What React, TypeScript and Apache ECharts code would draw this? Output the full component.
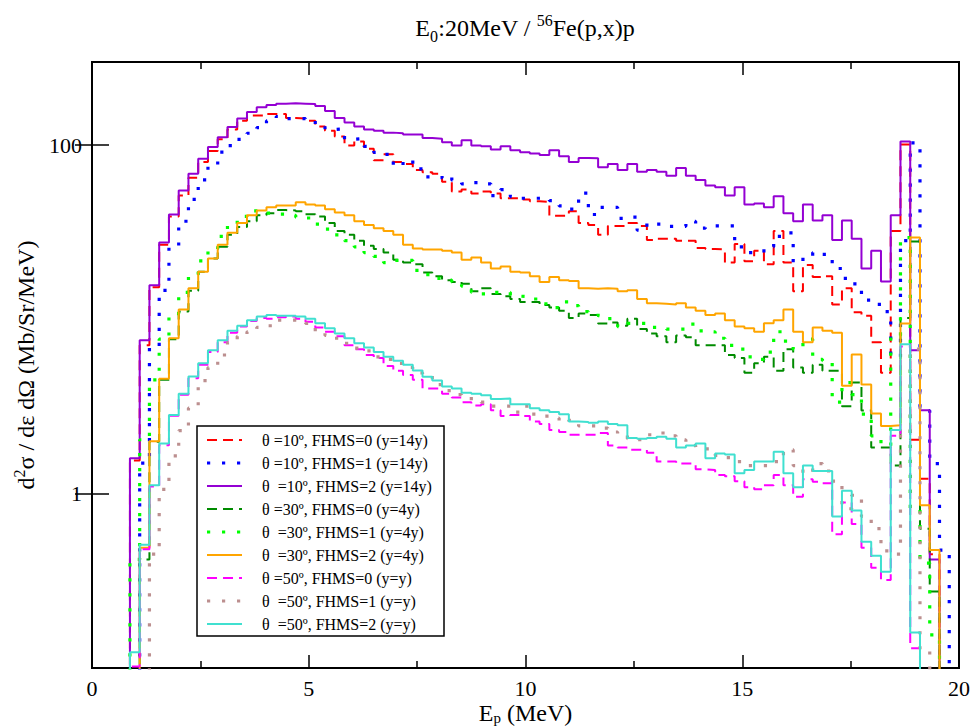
import React, { useEffect, useRef } from 'react';
import * as echarts from 'echarts';

// Energy bins (MeV): first lower edge and constant width
const binStart = 0.875;
const binWidth = 0.225;

// Axis ranges and ticks
const xMin = 0;
const xMax = 20;
const xInterval = 5;
const yMin = 0.1;
const yMax = 300;
const yTickValues = [1, 100];

const seriesNames = [
  'θ =10º, FHMS=0 (y=14y)',
  'θ =10º, FHMS=1 (y=14y)',
  'θ  =10º, FHMS=2 (y=14y)',
  'θ =30º, FHMS=0 (y=4y)',
  'θ  =30º, FHMS=1 (y=4y)',
  'θ  =30º, FHMS=2 (y=4y)',
  'θ =50º, FHMS=0 (y=y)',
  'θ  =50º, FHMS=1 (y=y)',
  'θ  =50º, FHMS=2 (y=y)',
];

// Values per bin (index 0 = first bin), null = not drawn
const theta10Fhms0 = [
  1.55, 7.1, 15.3, 26.8, 39, 51.4, 65, 80, 92.6, 108,
  123, 138, 148, 148, 151, 151, 143, 142, 138, 128,
  121, 112, 99.5, 105, 95.5, 82, 88.6, 80, 78, 72,
  70, 68.5, 61.7, 54.2, 55.6, 52.8, 54.2, 52.8, 49.6, 49.6,
  48.8, 47.6, 47.2, 39.4, 39.4, 41.7, 35.7, 34.8, 30.6, 34.4,
  34.4, 35.7, 34.4, 28.6, 29, 29, 28.3, 28.3, 25.7, 25.4,
  25.2, 21.2, 27.1, 21.6, 24.8, 20.7, 32.2, 21.2, 14.5, 20.5,
  17.5, 17.7, 12.2, 15.1, 11, 10.5, 7.4, 4.94, 32.2, 101,
  2.04, 1.22, 0.45,
];

const theta10Fhms1 = [
  null, 1.5, 6.9, 14.7, 26.1, 36.6, 48.8, 63.2, 76, 91.2,
  99.5, 108, 117, 126, 138, 146, 142, 142, 140, 131,
  123, 124, 108, 109, 98.5, 91, 88.6, 76, 82, 73,
  65.7, 65, 66.7, 63, 60, 61, 60, 51.4, 55.6, 50.7,
  49.6, 49.6, 50, 48, 44.8, 42.9, 53, 40, 44, 44,
  38, 38.6, 32.5, 35.7, 35.2, 34.2, 34.2, 36.6, 33.4, 33.9,
  34.4, 34.4, 26.1, 24.2, 24.2, 26.1, 30, 31.4, 21.2, 23,
  24.2, 23.6, 19.6, 17.2, 16, 12.9, 12.2, 11.1, 6.1, 28.3,
  103, 3.0, 1.49, 0.475,
];

const theta10Fhms2 = [
  1.6, 7.6, 15.7, 27.6, 40, 55, 68.6, 83.6, 97.7, 111,
  127, 142, 155, 165, 170, 173, 174, 173, 172, 168,
  157, 143, 135, 128, 123, 121, 118, 117, 115, 115,
  110, 109, 104, 99.5, 106.6, 99.5, 98.5, 94.5, 98.5, 93.5,
  91.2, 89.7, 87.8, 93.5, 86.5, 80, 84.3, 84, 74.8, 78,
  72, 78, 70.3, 72, 70.3, 66.7, 74, 66.7, 63.2, 58.6,
  57.3, 51.4, 57.3, 45.6, 46.3, 44, 50.9, 40.7, 36.6, 45.6,
  37, 39.6, 28.6, 37, 29, 19.6, 24.8, 16.5, 39.6, 105,
  6.65, 3.01, 0.42,
];

const theta30Fhms0 = [
  null, 0.42, 1.99, 4.5, 7.7, 11.1, 14.6, 18.8, 22.4, 26.1,
  30.6, 33.9, 36.6, 39.6, 40.7, 42.4, 42.2, 41.7, 40.2, 39,
  35.7, 32.2, 30.6, 28.3, 26.5, 25.4, 24.2, 22, 21.2, 20.7,
  18.6, 17.7, 16.8, 16.4, 16, 14.5, 15.1, 14, 13.6, 13.1,
  12.6, 12.6, 12.1, 11.7, 11.2, 10.2, 10.8, 10.6, 9.47, 9.6,
  9.2, 10.1, 8.8, 8.3, 8.0, 7.4, 8.1, 7.9, 7.1, 7.1,
  7.1, 6.25, 6.0, 4.94, 5.6, 6.1, 5.07, 6.75, 5.3, 4.94,
  5.5, 5.07, 5.07, 3.18, 4.34, 3.0, 1.84, 1.84, 1.45, 10.2,
  28, 0.63, 0.275,
];

const theta30Fhms1 = [
  0.42, 2.04, 4.5, 7.7, 10.8, 14.3, 18.1, 21.7, 25.4, 30,
  35, 39, 42, 42, 40.7, 40.2, 39.6, 38.6, 38.2, 35.2,
  33, 30.6, 28.3, 26.1, 24.2, 23, 21.2, 21.8, 21.8, 19.1,
  18.1, 17.2, 16.8, 16.4, 15.5, 14.3, 14, 14.3, 14.3, 13.6,
  13.5, 13.1, 12.3, 11.7, 12.6, 12, 11.1, 10.8, 10.5, 10.1,
  9.1, 9.5, 9.5, 9.0, 8.9, 8.8, 8.8, 9.4, 8.6, 8.5,
  7.8, 7.1, 6.75, 6.1, 5.9, 6.5, 8.5, 7.5, 6.75, 7.7,
  5.9, 5.8, 3.35, 4.34, 3.7, 2.86, 2.15, 1.89, 8.1, 29.5,
  0.82, 0.4, 0.155,
];

const theta30Fhms2 = [
  null, 0.49, 2.0, 4.57, 7.8, 11.4, 15.1, 18.8, 22.4, 26.8,
  31.4, 35.7, 39.6, 42.2, 44, 45.1, 45.1, 47.1, 45.6, 45.1,
  42.9, 41.1, 39.6, 36.6, 34.8, 33.4, 32.2, 30.6, 26.8, 25.5,
  25.2, 25.2, 24.8, 24.2, 22, 22.7, 21.2, 19.6, 20.1, 18.8,
  18.6, 17.7, 16.4, 17.5, 16.8, 16.6, 15.1, 15, 15.1, 15,
  14.5, 14.7, 13.1, 12.4, 12.3, 12.2, 12.4, 11.7, 11.2, 10.6,
  10.8, 9.9, 9.1, 8.9, 8.5, 9.5, 9.9, 11.4, 8.5, 7.4,
  9.0, 8.6, 8.4, 4.16, 6.3, 4.23, 2.89, 2.45, 2.47, 9.47,
  29.5, 0.86, 0.475,
];

const theta50Fhms0 = [
  0.102, 0.48, 1.1, 1.9, 2.8, 3.7, 4.6, 5.5, 6.5, 7.4,
  8.4, 9.1, 9.8, 10.2, 10.1, 10.3, 10.4, 10.1, 9.7, 9.0,
  8.5, 8.0, 7.1, 6.75, 6.25, 6.0, 5.4, 5.07, 4.8, 4.5,
  4.01, 4.01, 3.75, 3.56, 3.35, 3.21, 3.26, 3.01, 2.79, 2.83,
  2.79, 2.6, 2.51, 2.32, 2.26, 2.18, 2.18, 2.18, 2.23, 1.89,
  1.84, 1.79, 1.79, 1.72, 1.53, 1.53, 1.49, 1.49, 1.38, 1.37,
  1.28, 1.26, 1.18, 1.09, 1.06, 1.12, 1.28, 1.12, 0.96, 1.21,
  1.17, 1.15, 0.585, 0.89, 0.67, 0.49, 0.376, 0.32, 2.15, 7.0,
  0.13,
];

const theta50Fhms1 = [
  null, null, 0.45, 1.06, 1.65, 2.3, 3.1, 4.46, 5.3, 6.25,
  7.37, 8.0, 8.5, 9.0, 9.2, 9.9, 9.9, 9.9, 9.5, 8.5,
  8.1, 7.8, 7.3, 6.85, 6.6, 6.1, 5.9, 5.6, 5.3, 4.94,
  4.77, 4.23, 3.9, 3.7, 3.6, 3.43, 3.35, 3.18, 3.18, 2.94,
  3.18, 2.86, 2.79, 2.72, 2.58, 2.64, 2.45, 2.45, 2.38, 2.26,
  2.2, 2.07, 2.04, 2.18, 2.23, 2.15, 2.04, 1.89, 1.84, 1.81,
  1.66, 1.61, 1.53, 1.45, 1.45, 1.45, 1.53, 1.79, 1.45, 1.31,
  1.49, 1.35, 1.18, 0.82, 0.98, 0.74, 0.63, 0.47, 0.45, 2.2,
  6.75, 0.126,
];

const theta50Fhms2 = [
  0.123, 0.51, 1.12, 1.94, 2.83, 3.75, 4.7, 5.6, 6.65, 7.6,
  8.6, 9.2, 9.9, 10.4, 10.6, 10.5, 10.5, 10.4, 10.1, 9.5,
  8.9, 8.3, 7.8, 7.3, 6.9, 6.5, 6.1, 5.8, 5.5, 5.1,
  4.69, 4.46, 4.12, 4.01, 3.8, 3.75, 3.67, 3.49, 3.52, 3.26,
  3.26, 3.09, 3.01, 2.94, 2.86, 2.6, 2.58, 2.55, 2.6, 2.51,
  2.47, 2.09, 2.07, 2.09, 2.12, 2.07, 1.84, 1.89, 1.94, 1.6,
  1.7, 1.68, 1.31, 1.37, 1.53, 1.53, 1.74, 1.31, 1.09, 1.45,
  1.35, 1.35, 0.74, 1.04, 0.8, 0.53, 0.44, 0.357, 2.32, 7.2,
  0.16,
];

const seriesValues = [
  theta10Fhms0, theta10Fhms1, theta10Fhms2,
  theta30Fhms0, theta30Fhms1, theta30Fhms2,
  theta50Fhms0, theta50Fhms1, theta50Fhms2,
];

// Styles (presentation only)
const SERIF = '"Liberation Serif", "Times New Roman", serif';
const DASH = [10, 6];
const DOT = [3.2, 11.8];
const seriesStyles = [
  { color: '#ff0000', width: 2, dash: DASH },
  { color: '#0000ff', width: 3.2, dash: DOT },
  { color: '#9400d3', width: 2, dash: null },
  { color: '#008b00', width: 2, dash: DASH },
  { color: '#00ff00', width: 3.2, dash: DOT },
  { color: '#ffa500', width: 2, dash: null },
  { color: '#ff00ff', width: 2, dash: DASH },
  { color: '#bc8f8f', width: 3.2, dash: DOT },
  { color: '#40e0d0', width: 2, dash: null },
];

const FLOOR = 0.001; // below the axis minimum, clipped away

function edge(k: number): number {
  return Math.round((binStart + binWidth * k) * 10000) / 10000;
}

function toHistogram(vals: (number | null)[]): [number, number][] {
  const first = vals.findIndex((v) => v != null);
  const pts: [number, number][] = [];
  pts.push([edge(first), FLOOR]);
  for (let k = first; k < vals.length; k++) {
    pts.push([edge(k), vals[k] as number]);
  }
  const n = vals.length;
  pts.push([edge(n), vals[n - 1] as number]);
  pts.push([edge(n), FLOOR]);
  return pts;
}

export default function App() {
  const ref = useRef<HTMLDivElement>(null);

  useEffect(() => {
    if (!ref.current) return;
    const chart = echarts.init(ref.current, null, { renderer: 'svg' });

    const tickLine = { color: '#000', width: 1.5 };
    const labelStyle = { color: '#000', fontFamily: SERIF, fontSize: 22 };

    const series = seriesValues.map((vals, i) => ({
      type: 'line',
      name: seriesNames[i],
      data: toHistogram(vals),
      step: 'end',
      symbol: 'none',
      showSymbol: false,
      clip: true,
      silent: true,
      xAxisIndex: 0,
      yAxisIndex: 0,
      z: 2 + i * 0.01,
      lineStyle: {
        color: seriesStyles[i].color,
        width: seriesStyles[i].width,
        type: seriesStyles[i].dash ? seriesStyles[i].dash : 'solid',
        cap: 'butt',
      },
      itemStyle: { color: seriesStyles[i].color },
    }));

    const legendX = 197;
    const legendY = 426;
    const legendW = 247;
    const legendH = 210;
    const rowY0 = 440;
    const rowGap = 23;

    const legendElements: any[] = [
      {
        type: 'rect',
        shape: { x: legendX, y: legendY, width: legendW, height: legendH },
        style: { fill: '#fff', stroke: '#000', lineWidth: 1.5 },
        z: 100,
      },
    ];
    seriesNames.forEach((name, i) => {
      const y = rowY0 + rowGap * i;
      const st = seriesStyles[i];
      legendElements.push({
        type: 'line',
        shape: { x1: 207, y1: y, x2: 242, y2: y },
        style: {
          stroke: st.color,
          lineWidth: st.width,
          lineDash: st.dash ? st.dash : null,
          lineCap: 'butt',
        },
        z: 101,
      });
      legendElements.push({
        type: 'text',
        x: 262,
        y: y,
        style: {
          text: name,
          fill: '#000',
          fontFamily: SERIF,
          fontSize: 16,
          align: 'left',
          verticalAlign: 'middle',
        },
        z: 101,
      });
    });

    const option: any = {
      animation: false,
      backgroundColor: '#fff',
      grid: {
        left: 92,
        right: 15,
        top: 62,
        bottom: 59,
        containLabel: false,
        outerBoundsMode: 'none',
        show: true,
        borderColor: '#000',
        borderWidth: 2,
        backgroundColor: 'transparent',
      },
      xAxis: [
        {
          type: 'value',
          min: xMin,
          max: xMax,
          interval: xInterval,
          position: 'bottom',
          axisLine: { show: false },
          axisTick: { show: true, inside: true, length: 13, lineStyle: tickLine },
          minorTick: { show: true, splitNumber: 2, length: 7, lineStyle: tickLine },
          splitLine: { show: false },
          minorSplitLine: { show: false },
          axisLabel: { ...labelStyle, margin: 9 },
          name: '{a|E}{s|p}{a| (MeV)}',
          nameLocation: 'middle',
          nameGap: 33,
          nameMoveOverlap: false,
          nameTextStyle: {
            color: '#000',
            rich: {
              a: { fontFamily: SERIF, fontSize: 24, color: '#000', lineHeight: 24 },
              s: { fontFamily: SERIF, fontSize: 15, color: '#000', lineHeight: 24, verticalAlign: 'bottom' },
            },
          },
        },
        {
          type: 'value',
          min: xMin,
          max: xMax,
          interval: xInterval,
          position: 'top',
          axisLine: { show: false },
          axisTick: { show: true, inside: true, length: 13, lineStyle: tickLine },
          minorTick: { show: true, splitNumber: 2, length: 7, lineStyle: tickLine },
          splitLine: { show: false },
          minorSplitLine: { show: false },
          axisLabel: { show: false },
        },
      ],
      yAxis: [
        {
          type: 'log',
          logBase: 10,
          min: yMin,
          max: yMax,
          position: 'left',
          axisLine: { show: false },
          axisTick: { show: true, inside: true, length: 17, lineStyle: tickLine, customValues: yTickValues },
          minorTick: { show: false },
          splitLine: { show: false },
          minorSplitLine: { show: false },
          axisLabel: { ...labelStyle, margin: 10, customValues: yTickValues },
          name: '{a|d}{p|2}{a|σ / dε dΩ (Mb/Sr/MeV)}',
          nameLocation: 'middle',
          nameRotate: 90,
          nameGap: 46,
          nameTextStyle: {
            color: '#000',
            rich: {
              a: { fontFamily: SERIF, fontSize: 24, color: '#000', lineHeight: 30 },
              p: { fontFamily: SERIF, fontSize: 16, color: '#000', lineHeight: 30, verticalAlign: 'top' },
            },
          },
        },
        {
          type: 'log',
          logBase: 10,
          min: yMin,
          max: yMax,
          position: 'right',
          axisLine: { show: false },
          axisTick: { show: true, inside: true, length: 17, lineStyle: tickLine, customValues: yTickValues },
          minorTick: { show: false },
          splitLine: { show: false },
          minorSplitLine: { show: false },
          axisLabel: { show: false, customValues: yTickValues },
        },
      ],
      series,
      graphic: [
        {
          type: 'text',
          x: 525,
          y: 28,
          z: 100,
          style: {
            text: '{a|E}{s|0}{a|:20MeV / }{p|56}{a|Fe(p,x)p}',
            align: 'center',
            verticalAlign: 'middle',
            rich: {
              a: { fontFamily: SERIF, fontSize: 24, fill: '#000', lineHeight: 32 },
              s: { fontFamily: SERIF, fontSize: 16, fill: '#000', lineHeight: 32, verticalAlign: 'bottom' },
              p: { fontFamily: SERIF, fontSize: 16, fill: '#000', lineHeight: 32, verticalAlign: 'top' },
            },
          },
        },
        ...legendElements,
      ],
    };

    chart.setOption(option);
    return () => {
      chart.dispose();
    };
  }, []);

  return (
    <div
      ref={ref}
      style={{ position: 'absolute', left: 0, top: 0, width: 974, height: 727, background: '#fff' }}
    />
  );
}
